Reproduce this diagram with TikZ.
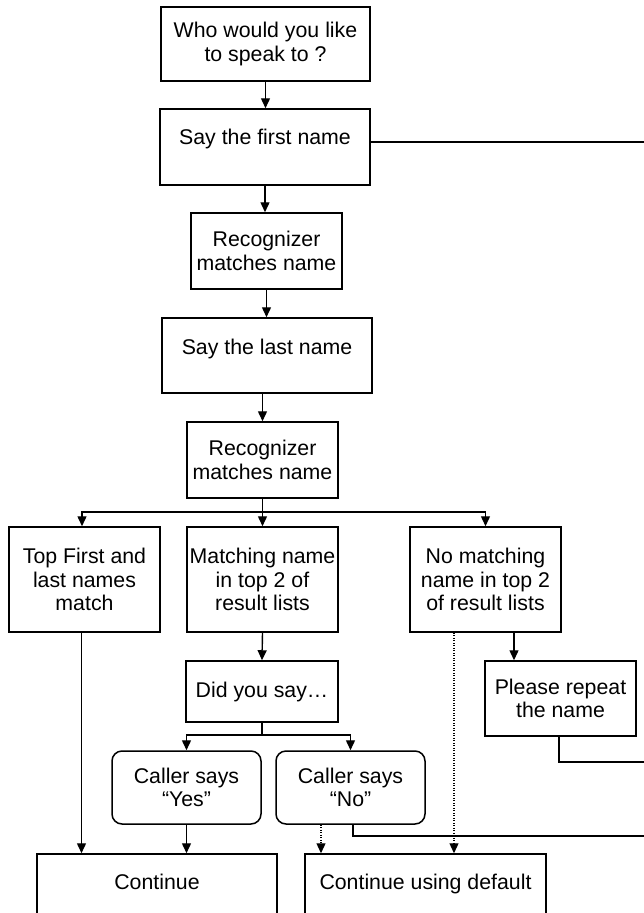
\documentclass[tikz,border=0pt]{standalone}
\usepackage{fontspec}
\setmainfont{Liberation Sans}
\usetikzlibrary{arrows.meta}
\begin{document}
\begin{tikzpicture}[x=1pt,y=-1pt,
  box/.style={draw, line width=1.5pt, rectangle, inner sep=0pt, align=center, font=\fontsize{21.3pt}{23.5pt}\selectfont},
  rbox/.style={box, rounded corners=10pt},
  arr/.style={line width=1.4pt, -{Triangle[width=9pt,length=10pt]}},
  ln/.style={line width=1.4pt},
  far/.style={line width=1.9pt},
  dot/.style={line width=1.2pt, dash pattern=on 1.2pt off 1.3pt, -{Triangle[width=9pt,length=10pt]}}]
\useasboundingbox (0,0) rectangle (644,913);
\clip (0,0) rectangle (644,913);
\node[box, minimum width=209pt, minimum height=74pt] (q1) at (265.5,44) {Who would you like\\to speak to ?};
\node[box, minimum width=210pt, text height=35pt, text depth=41pt] (first) at (265,147) {Say the first name};
\node[box, minimum width=151pt, minimum height=76pt] (rec1) at (266.5,251) {Recognizer\\matches name};
\node[box, minimum width=210pt, text height=36pt, text depth=39pt] (last) at (267,355.5) {Say the last name};
\node[box, minimum width=151pt, minimum height=76pt] (rec2) at (262.5,460) {Recognizer\\matches name};
\node[box, minimum width=151pt, minimum height=105pt] (top) at (84.5,579.5) {Top First and\\last names\\match};
\node[box, minimum width=151pt, minimum height=105pt] (match) at (262.5,579.5) {Matching name\\in top 2 of\\result lists};
\node[box, minimum width=151pt, minimum height=105pt] (nomatch) at (485.5,579.5) {No matching\\name in top 2\\of result lists};
\node[box, minimum width=152pt, minimum height=61pt] (did) at (262,691.5) {Did you say…};
\node[box, minimum width=151pt, minimum height=75pt] (repeat) at (560.5,698.5) {Please repeat\\the name};
\node[rbox, minimum width=149pt, minimum height=73pt] (yes) at (186.5,787.5) {Caller says\\“Yes”};
\node[rbox, minimum width=149pt, minimum height=73pt] (no) at (350.5,787.5) {Caller says\\“No”};
\node[box, minimum width=240pt, text height=35pt, text depth=45pt] (cont) at (157,894) {Continue};
\node[box, minimum width=241pt, text height=35pt, text depth=45pt] (contdef) at (425.5,894) {Continue using default};
\coordinate (b1) at (262.5,512);
\coordinate (b2) at (262,735);
\coordinate (e1) at (650,142);
\coordinate (e2) at (650,762);
\coordinate (e3) at (650,836);
\draw[arr] (q1.south) -- (q1.south |- first.north);
\draw[arr] (first.south) -- (first.south |- rec1.north);
\draw[arr] (rec1.south) -- (rec1.south |- last.north);
\draw[arr] (rec2.north |- last.south) -- (rec2.north);
\draw[ln] (rec2.south) -- (b1);
\draw[arr] (b1) -| ([xshift=-2.5pt]top.north);
\draw[arr] (b1) -- (match.north);
\draw[arr] (b1) -| (nomatch.north);
\draw[arr] (match.south) -- (did.north);
\draw[ln] (did.south) -- (b2);
\draw[arr] (b2) -| (yes.north);
\draw[arr] (b2) -| (no.north);
\draw[arr] ([xshift=-3pt]top.south) -- ([xshift=-3pt]top.south |- cont.north);
\draw[arr] (yes.south) -- (yes.south |- cont.north);
\draw[arr] ([xshift=28.5pt]nomatch.south) -- ([xshift=28.5pt]nomatch.south |- repeat.north);
\draw[dot] ([xshift=-31.5pt]nomatch.south) -- ([xshift=-31.5pt]nomatch.south |- contdef.north);
\draw[dot] ([xshift=-29.5pt]no.south) -- ([xshift=-29.5pt]no.south |- contdef.north);
\draw[far] ([yshift=5pt]first.east) -- (e1);
\draw[far] ([xshift=-1.5pt]repeat.south) |- (e2);
\draw[far] ([xshift=2.5pt]no.south) |- (e3);
\end{tikzpicture}
\end{document}
